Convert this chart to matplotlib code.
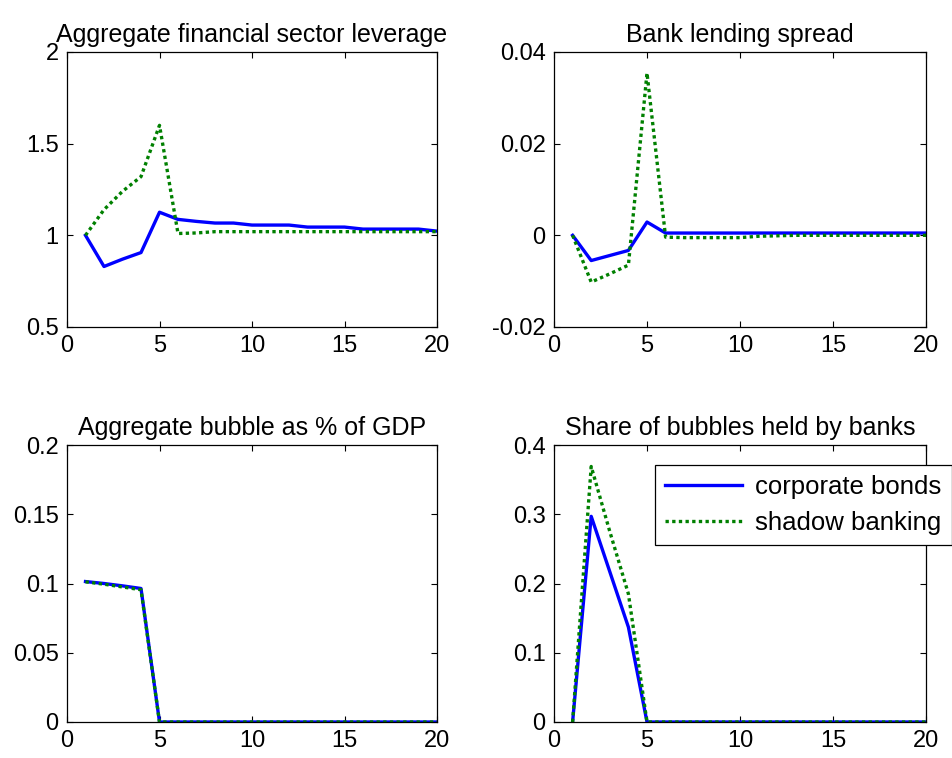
import matplotlib

matplotlib.use("Agg")
import matplotlib.pyplot as plt
from matplotlib.ticker import FuncFormatter

plt.rcParams["font.family"] = ["Liberation Sans", "DejaVu Sans"]

periods = list(range(1, 21))

lev_corp = [1.0, 0.83, 0.87, 0.906, 1.126, 1.087, 1.076, 1.067, 1.067, 1.056,
            1.056, 1.056, 1.045, 1.045, 1.045, 1.034, 1.034, 1.034, 1.034, 1.023]
lev_shadow = [1.0, 1.14, 1.24, 1.32, 1.60, 1.01, 1.013, 1.02, 1.02, 1.02,
              1.02, 1.02, 1.02, 1.02, 1.02, 1.02, 1.02, 1.02, 1.02, 1.02]

spread_corp = [0.0, -0.0055, -0.0044, -0.0033, 0.0029, 0.0005, 0.0005, 0.0005, 0.0005, 0.0005,
               0.0005, 0.0005, 0.0005, 0.0005, 0.0005, 0.0005, 0.0005, 0.0005, 0.0005, 0.0005]
spread_shadow = [0.0, -0.0102, -0.0084, -0.0065, 0.0354, -0.0004, -0.0005, -0.0005, -0.0005, -0.0005,
                 -0.0002, -0.0001, 0.0, 0.0, 0.0, 0.0, 0.0, 0.0, 0.0, 0.0]

bubble_corp = [0.1014, 0.100, 0.0983, 0.0964] + [0.0] * 16
bubble_shadow = [0.1012, 0.0995, 0.0975, 0.0955] + [0.0] * 16

share_corp = [0.0, 0.297, 0.217, 0.137] + [0.0] * 16
share_shadow = [0.0, 0.369, 0.275, 0.185] + [0.0] * 16

titles = ["Aggregate financial sector leverage", "Bank lending spread",
          "Aggregate bubble as % of GDP", "Share of bubbles held by banks"]
ylims = [(0.5, 2.0), (-0.02, 0.04), (0.0, 0.2), (0.0, 0.4)]
yticks = [[0.5, 1, 1.5, 2], [-0.02, 0, 0.02, 0.04],
          [0, 0.05, 0.1, 0.15, 0.2], [0, 0.1, 0.2, 0.3, 0.4]]
series = [(lev_corp, lev_shadow), (spread_corp, spread_shadow),
          (bubble_corp, bubble_shadow), (share_corp, share_shadow)]

W, H = 953, 758
# axes boxes in pixels: left, top, right, bottom
boxes = [(67, 52, 437, 327), (554, 52, 926, 327),
         (67, 445, 437, 722), (554, 445, 926, 722)]

fig = plt.figure(figsize=(W / 100, H / 100), dpi=100)
fmt = FuncFormatter(lambda v, p: "%g" % v)

axes = []
for (l, t, r, b), title, yl, yt, (corp, shadow) in zip(boxes, titles, ylims, yticks, series):
    ax = fig.add_axes([l / W, 1 - b / H, (r - l) / W, (b - t) / H])
    ax.plot(periods, corp, color="#0000ff", lw=2.4, label="corporate bonds")
    ax.plot(periods, shadow, color="#008000", lw=2.4, linestyle=(0, (1, 1)), label="shadow banking")
    ax.set_xlim(0, 20)
    ax.set_ylim(*yl)
    ax.set_xticks([0, 5, 10, 15, 20])
    ax.set_yticks(yt)
    ax.xaxis.set_major_formatter(fmt)
    ax.yaxis.set_major_formatter(fmt)
    ax.tick_params(direction="in", top=True, right=True, length=4, width=0.8,
                   labelsize=17, pad=6)
    for s in ax.spines.values():
        s.set_linewidth(0.9)
    ax.set_title(title, fontsize=18, pad=7)
    axes.append(ax)

leg = axes[3].legend(loc="upper left", bbox_to_anchor=(655 / W, 1 - 465 / H),
                     bbox_transform=fig.transFigure, fontsize=18.5, fancybox=False,
                     framealpha=1, edgecolor="black", handlelength=3.0,
                     handletextpad=0.5, borderaxespad=0, borderpad=0.4,
                     labelspacing=0.45)
leg.get_frame().set_linewidth(0.9)

fig.savefig("out.png", dpi=100)
